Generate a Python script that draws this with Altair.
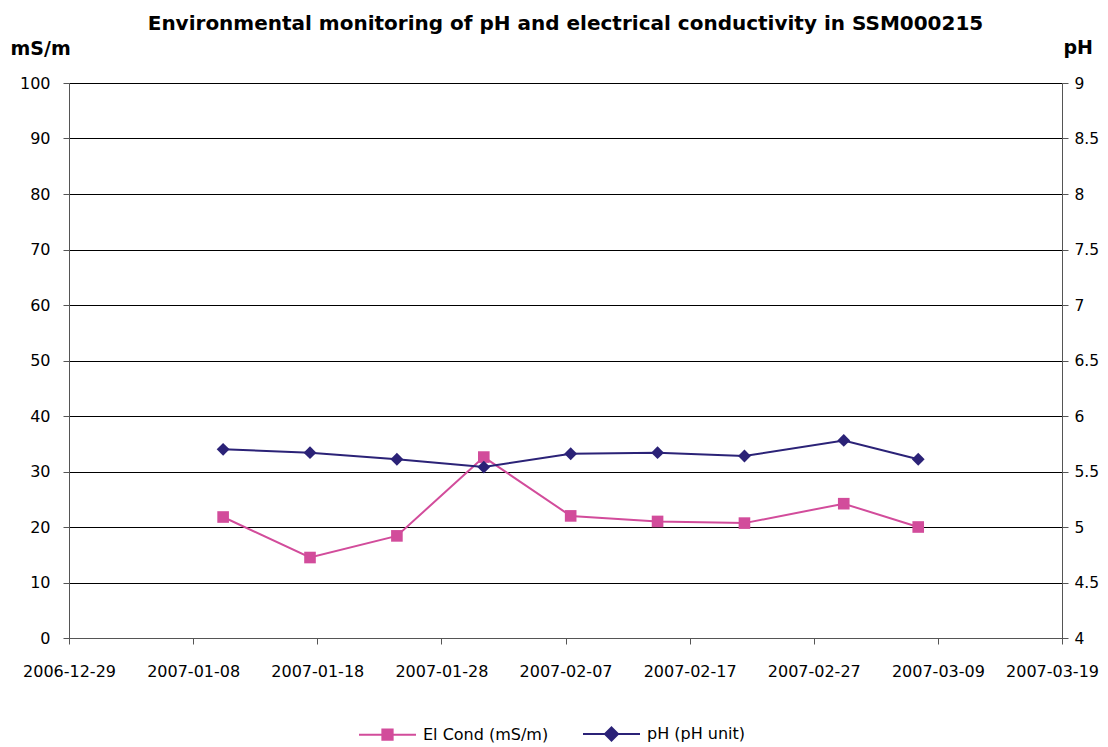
import altair as alt
import pandas as pd

# ---- data ----
dates = ["2007-01-10 10:00", "2007-01-17 10:00", "2007-01-24 10:00", "2007-01-31 10:00",
         "2007-02-07 10:00", "2007-02-14 10:00", "2007-02-21 10:00", "2007-03-01 10:00",
         "2007-03-07 10:00"]
el_cond = [21.8, 14.5, 18.4, 32.6, 22.0, 21.0, 20.7, 24.2, 20.0]
ph = [5.70, 5.67, 5.61, 5.54, 5.66, 5.67, 5.64, 5.78, 5.61]
x_ticks = ["2006-12-29", "2007-01-08", "2007-01-18", "2007-01-28", "2007-02-07",
           "2007-02-17", "2007-02-27", "2007-03-09", "2007-03-19"]
left_ticks = [0, 10, 20, 30, 40, 50, 60, 70, 80, 90, 100]
right_ticks = [4, 4.5, 5, 5.5, 6, 6.5, 7, 7.5, 8, 8.5, 9]
series_names = ["El Cond (mS/m)", "pH (pH unit)"]

PINK = "#D24C9B"
NAVY = "#2B2277"
FONT = "DejaVu Sans"


def to_ms(values):
    s = pd.to_datetime(pd.Series(values))
    return ((s - pd.Timestamp("1970-01-01")) // pd.Timedelta("1ms")).astype("int64").tolist()


df = pd.DataFrame({"t": to_ms(dates), "cond": el_cond, "ph": ph})
tick_ms = to_ms(x_ticks)
df_leg = pd.DataFrame({"series": series_names, "t": [None, None], "cond": [None, None]})

x_enc = alt.X(
    "t:T",
    title=None,
    scale=alt.Scale(type="utc", domain=[tick_ms[0], tick_ms[-1]], nice=False),
    axis=alt.Axis(values=tick_ms, format="%Y-%m-%d", grid=False, domainColor="#555",
                  tickColor="#555", tickSize=6, labelFont=FONT, labelFontSize=16,
                  labelColor="#000", labelPadding=19, labelFlush=False, labelOverlap=False,
                  labelOffset={"condition": {"test": "datum.value >= %d" % tick_ms[-1],
                                             "value": -10}, "value": 0}),
)

y_left = alt.Y(
    "cond:Q",
    scale=alt.Scale(domain=[0, 100], nice=False, zero=False),
    axis=alt.Axis(values=left_ticks, grid=True, gridColor="#000", gridWidth=1,
                  domainColor="#555", tickColor="#555", tickSize=6, labelFont=FONT,
                  labelFontSize=16, labelColor="#000", labelPadding=13,
                  title="mS/m", titleAngle=0, titleX=-59, titleY=-29, titleAlign="left",
                  titleBaseline="alphabetic", titleFont=FONT, titleFontSize=19,
                  titleFontWeight="bold", titleColor="#000"),
)

y_right = alt.Y(
    "ph:Q",
    scale=alt.Scale(domain=[4, 9], nice=False, zero=False),
    axis=alt.Axis(orient="right", values=right_ticks, format="~g", grid=False,
                  domainColor="#555", tickColor="#555", tickSize=6, labelFont=FONT,
                  labelFontSize=15.5, labelColor="#000", labelPadding=6,
                  title="pH", titleAngle=0, titleX=1, titleY=-30, titleAlign="left",
                  titleBaseline="alphabetic", titleFont=FONT, titleFontSize=19,
                  titleFontWeight="bold", titleColor="#000"),
)

sq_path = "M-1,0H1M-0.18,-0.18H0.18V0.18H-0.18Z"
dia_path = "M-1,0H1M0,-0.23L0.23,0L0,0.23L-0.23,0Z"
leg = alt.Legend(title=None, orient="none", legendX=289, legendY=621, direction="horizontal",
                 symbolSize=3249, symbolStrokeWidth=2, labelFont=FONT, labelFontSize=16,
                 labelColor="#000", labelOffset=6, columnPadding=30, symbolOpacity=1)

cond_line = alt.Chart(df).mark_line(color=PINK, strokeWidth=2).encode(x=x_enc, y=y_left)
cond_pts = alt.Chart(df).mark_point(shape="square", filled=True, size=135, color=PINK,
                                    opacity=1).encode(x=x_enc, y=y_left)
legend_layer = alt.Chart(df_leg).mark_point(filled=True, strokeWidth=2, opacity=1).encode(
    x=x_enc,
    y=y_left,
    color=alt.Color("series:N", scale=alt.Scale(domain=series_names, range=[PINK, NAVY]), legend=leg),
    stroke=alt.Stroke("series:N", scale=alt.Scale(domain=series_names, range=[PINK, NAVY]), legend=leg),
    shape=alt.Shape("series:N", scale=alt.Scale(domain=series_names, range=[sq_path, dia_path]), legend=leg),
)
left = alt.layer(cond_line, cond_pts, legend_layer)

ph_line = alt.Chart(df).mark_line(color=NAVY, strokeWidth=2).encode(x=x_enc, y=y_right)
ph_pts = alt.Chart(df).mark_point(shape="diamond", filled=True, size=165, color=NAVY,
                                  opacity=1).encode(x=x_enc, y=y_right)
right = alt.layer(ph_line, ph_pts)

chart = alt.layer(left, right).resolve_scale(y="independent").properties(
    width=993,
    height=555,
    autosize=alt.AutoSizeParams(type="none"),
    padding={"left": 61, "top": 75, "right": 38, "bottom": 106},
    title=alt.Title("Environmental monitoring of pH and electrical conductivity in SSM000215",
                    font=FONT, fontSize=20, fontWeight="bold", color="#000",
                    anchor="middle", frame="group", offset=4),
).configure_view(stroke=None).configure(background="white")

chart.save("out.html", embed_options={"renderer": "svg", "actions": False})
